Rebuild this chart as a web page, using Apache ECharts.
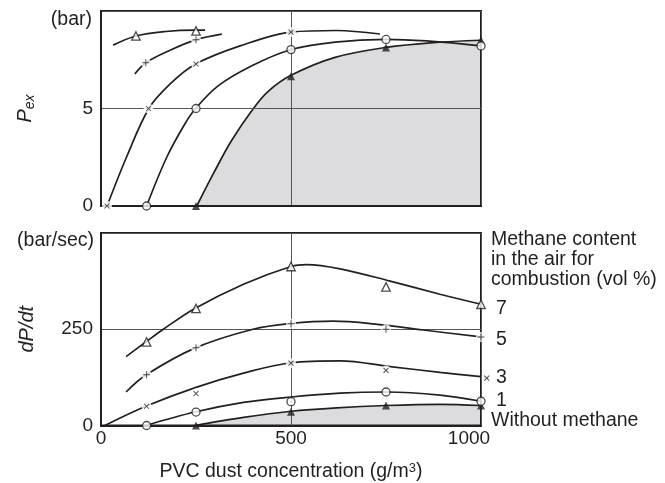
<!DOCTYPE html>
<html>
<head>
<meta charset="utf-8">
<script src="https://cdn.jsdelivr.net/npm/echarts@6/dist/echarts.min.js"></script>
<style>
  html, body { margin: 0; padding: 0; background: #fff; }
  #chart { width: 665px; height: 483px; }
</style>
</head>
<body>
<div id="chart"></div>
<script>
// PVC dust concentration (g/m3) on x; top: Pex (bar), bottom: dP/dt (bar/sec)

// ---- Top panel: explosion pressure, fitted curves ----
const pexCurve0 = [[252,0],[296,1.67],[344,3.37],[401,5],[440,5.88],[500,6.7],[616,7.62],[750,8.13],[875,8.38],[1000,8.5]];
const pexCurve1 = [[120,0],[173,2.5],[221,4.22],[249,5],[309,6.17],[397,7.19],[497,8.0],[616,8.4],[750,8.54],[1000,8.21]];
const pexCurve3 = [[16,0],[67,2.5],[126,5],[182,6.26],[249,7.28],[366,8.21],[500,8.92],[620,9.0],[734,8.82]];
const pexCurve5 = [[89,6.77],[118,7.35],[183,8.0],[249,8.52],[318,8.81]];
const pexCurve7 = [[32,8.25],[92,8.72],[170,8.95],[247,9.02],[274,9.02]];

// ---- Top panel: measured points ----
const pexPts0 = [[250,0],[500,6.65],[750,8.13],[1000,8.5]];
const pexPts1 = [[120,0],[250,5],[500,8.02],[750,8.54],[1000,8.21]];
const pexPts3 = [[16,0],[125,5],[250,7.28],[500,8.92]];
const pexPts5 = [[118,7.35],[250,8.52]];
const pexPts7 = [[92,8.72],[250,8.98]];

// ---- Bottom panel: rate of pressure rise, fitted curves ----
const rateCurve0 = [[247,0],[375,21],[500,37],[620,46],[750,52],[892,55],[1000,52]];
const rateCurve1 = [[118,0],[247,35],[375,60],[500,74],[629,84],[750,87],[892,79],[1000,63]];
const rateCurve3 = [[10,0],[118,50],[250,99],[375,136],[500,163],[629,168],[761,153],[892,138],[1000,127]];
const rateCurve5 = [[66,87],[118,131],[247,201],[400,250],[500,265],[611,271],[717,264],[848,248],[1000,230]];
const rateCurve7 = [[66,179],[118,217],[164,250],[247,304],[375,367],[500,413],[541,418],[629,407],[761,375],[892,341],[1000,315]];

// ---- Bottom panel: measured points ----
const ratePts0 = [[250,0],[500,36],[750,52],[1000,52]];
const ratePts1 = [[120,0],[250,35],[500,62],[750,87],[1000,63]];
const ratePts3 = [[120,50],[250,83],[500,162],[750,143],[1015,123]];
const ratePts5 = [[120,132],[250,202],[500,264],[750,250],[1000,230]];
const ratePts7 = [[120,217],[250,304],[500,413],[750,360],[1000,315]];

// ---- Axis ticks and text ----
const xTicks = [0, 500, 1000];
const pexTickLabels = [0, 5];
const rateTickLabels = [0, 250];
const methaneLabels = ['7', '5', '3', '1', 'Without methane'];
const legendTitle = ['Methane content', 'in the air for', 'combustion (vol %)'];

const INK = '#231f20';
const FILL = '#dcdcde';
const FONT = '"Liberation Sans", Arial, sans-serif';
const TXT = 19.5;
const TICK = 19;

const PLUS = 'path://M0,4.3H10V5.7H0Z M4.3,0H5.7V10H4.3Z';

const chart = echarts.init(document.getElementById('chart'), null, { renderer: 'canvas' });

function xAxisCfg(gridIndex, showLabels) {
  return {
    gridIndex, type: 'value', min: 0, max: 1000, interval: 500, z: 2,
    axisLine: { show: true, lineStyle: { color: INK, width: 2 } },
    axisTick: { show: false },
    axisLabel: {
      show: showLabels, color: INK, fontFamily: FONT, fontSize: TICK, margin: 4,
      formatter: v => !xTicks.includes(v) ? '' : (v === 1000 ? '{r|1000}' : String(v)),
      rich: { r: { fontFamily: FONT, fontSize: TICK, color: INK, padding: [0, 24, 0, 0] } }
    },
    splitLine: { show: true, lineStyle: { color: '#555', width: 1 } },
    name: showLabels ? '{t|PVC dust concentration (g/m}{s|3}{t|)}' : '',
    nameLocation: 'middle', nameGap: 36,
    nameTextStyle: {
      rich: {
        t: { fontFamily: FONT, fontSize: TXT, color: INK },
        s: { fontFamily: FONT, fontSize: 13, color: INK, verticalAlign: 'top', padding: [0, 0, 8, 0] }
      }
    }
  };
}

function yAxisCfg(gridIndex, max, interval, labels, nameRich) {
  return {
    gridIndex, type: 'value', min: 0, max, interval, z: 2,
    axisLine: { show: true, lineStyle: { color: INK, width: 2 } },
    axisTick: { show: false },
    axisLabel: {
      color: INK, fontFamily: FONT, fontSize: TICK, margin: 8,
      formatter: v => labels.includes(v) ? String(v) : ''
    },
    splitLine: { show: true, lineStyle: { color: '#555', width: 1 } },
    name: nameRich.text, nameLocation: 'middle', nameRotate: 90, nameGap: 64,
    nameTextStyle: { rich: nameRich.rich }
  };
}

function curve(data, xi, fill) {
  const s = {
    type: 'line', xAxisIndex: xi, yAxisIndex: xi, data, smooth: 0.35,
    symbol: 'none', z: 3, silent: true,
    lineStyle: { color: INK, width: 1.7 }
  };
  if (fill) { s.areaStyle = { color: FILL, opacity: 1 }; s.z = 1; }
  return s;
}

function halo(data, xi) {
  return {
    type: 'scatter', xAxisIndex: xi, yAxisIndex: xi, data, clip: false,
    symbol: 'circle', symbolSize: 10, z: 4, silent: true,
    itemStyle: { color: '#fff' }
  };
}

function points(data, xi, kind) {
  const s = {
    type: 'scatter', xAxisIndex: xi, yAxisIndex: xi, data, clip: false, z: 5, silent: true
  };
  if (kind === 'filledTri') {
    s.symbol = 'triangle'; s.symbolSize = 8; s.itemStyle = { color: INK };
  } else if (kind === 'openTri') {
    s.symbol = 'triangle'; s.symbolSize = 8.5;
    s.itemStyle = { color: '#fff', borderColor: INK, borderWidth: 1.3 };
  } else if (kind === 'circle') {
    s.symbol = 'circle'; s.symbolSize = 8;
    s.itemStyle = { color: '#fff', borderColor: INK, borderWidth: 1.3 };
  } else if (kind === 'plus') {
    s.symbol = PLUS; s.symbolSize = 7; s.itemStyle = { color: INK };
  } else if (kind === 'cross') {
    s.symbol = PLUS; s.symbolSize = 7; s.symbolRotate = 45; s.itemStyle = { color: INK };
  }
  return s;
}

const pexName = {
  text: '{i|P}{sub|ex}',
  rich: {
    i: { fontFamily: FONT, fontSize: 20, fontStyle: 'italic', color: INK },
    sub: { fontFamily: FONT, fontSize: 14, fontStyle: 'italic', color: INK, verticalAlign: 'bottom', padding: [9, 0, 0, 0] }
  }
};
const rateName = {
  text: '{i|dP/dt}',
  rich: { i: { fontFamily: FONT, fontSize: 20, fontStyle: 'italic', color: INK } }
};

function label(x, y, text, align) {
  return {
    type: 'text', x, y,
    style: { text, fontFamily: FONT, fontSize: TXT, fill: INK, textAlign: align || 'left', textVerticalAlign: 'middle' }
  };
}

const legendY = [240, 260, 280];
const methaneY = [309, 340, 378, 401, 421];

const graphics = [
  label(92, 20, '(bar)', 'right'),
  label(94, 241, '(bar/sec)', 'right'),
  label(386, 133, 'PVC dust without', 'center'),
  label(386, 153, 'methane', 'center')
];
legendTitle.forEach((t, i) => graphics.push(label(491, legendY[i], t)));
methaneLabels.forEach((t, i) => graphics.push(label(i === 4 ? 491 : 496, methaneY[i], t)));

chart.setOption({
  animation: false,
  backgroundColor: '#fff',
  grid: [
    { left: 101, top: 11, width: 380, height: 195, show: true, borderColor: INK, borderWidth: 2, z: 2, backgroundColor: 'transparent' },
    { left: 101, top: 233, width: 380, height: 195, show: true, borderColor: INK, borderWidth: 2, z: 2, backgroundColor: 'transparent' }
  ],
  xAxis: [xAxisCfg(0, false), xAxisCfg(1, true)],
  yAxis: [
    yAxisCfg(0, 10, 5, pexTickLabels, pexName),
    yAxisCfg(1, 500, 250, rateTickLabels, rateName)
  ],
  graphic: graphics,
  series: [
    curve(pexCurve0, 0, true),
    curve(pexCurve1, 0), curve(pexCurve3, 0), curve(pexCurve5, 0), curve(pexCurve7, 0),
    halo(pexPts3, 0), halo(pexPts5, 0),
    points(pexPts0, 0, 'filledTri'), points(pexPts1, 0, 'circle'),
    points(pexPts3, 0, 'cross'), points(pexPts5, 0, 'plus'), points(pexPts7, 0, 'openTri'),

    curve(rateCurve0, 1, true),
    curve(rateCurve1, 1), curve(rateCurve3, 1), curve(rateCurve5, 1), curve(rateCurve7, 1),
    halo(ratePts3, 1), halo(ratePts5, 1),
    points(ratePts0, 1, 'filledTri'), points(ratePts1, 1, 'circle'),
    points(ratePts3, 1, 'cross'), points(ratePts5, 1, 'plus'), points(ratePts7, 1, 'openTri')
  ]
});
</script>
</body>
</html>
